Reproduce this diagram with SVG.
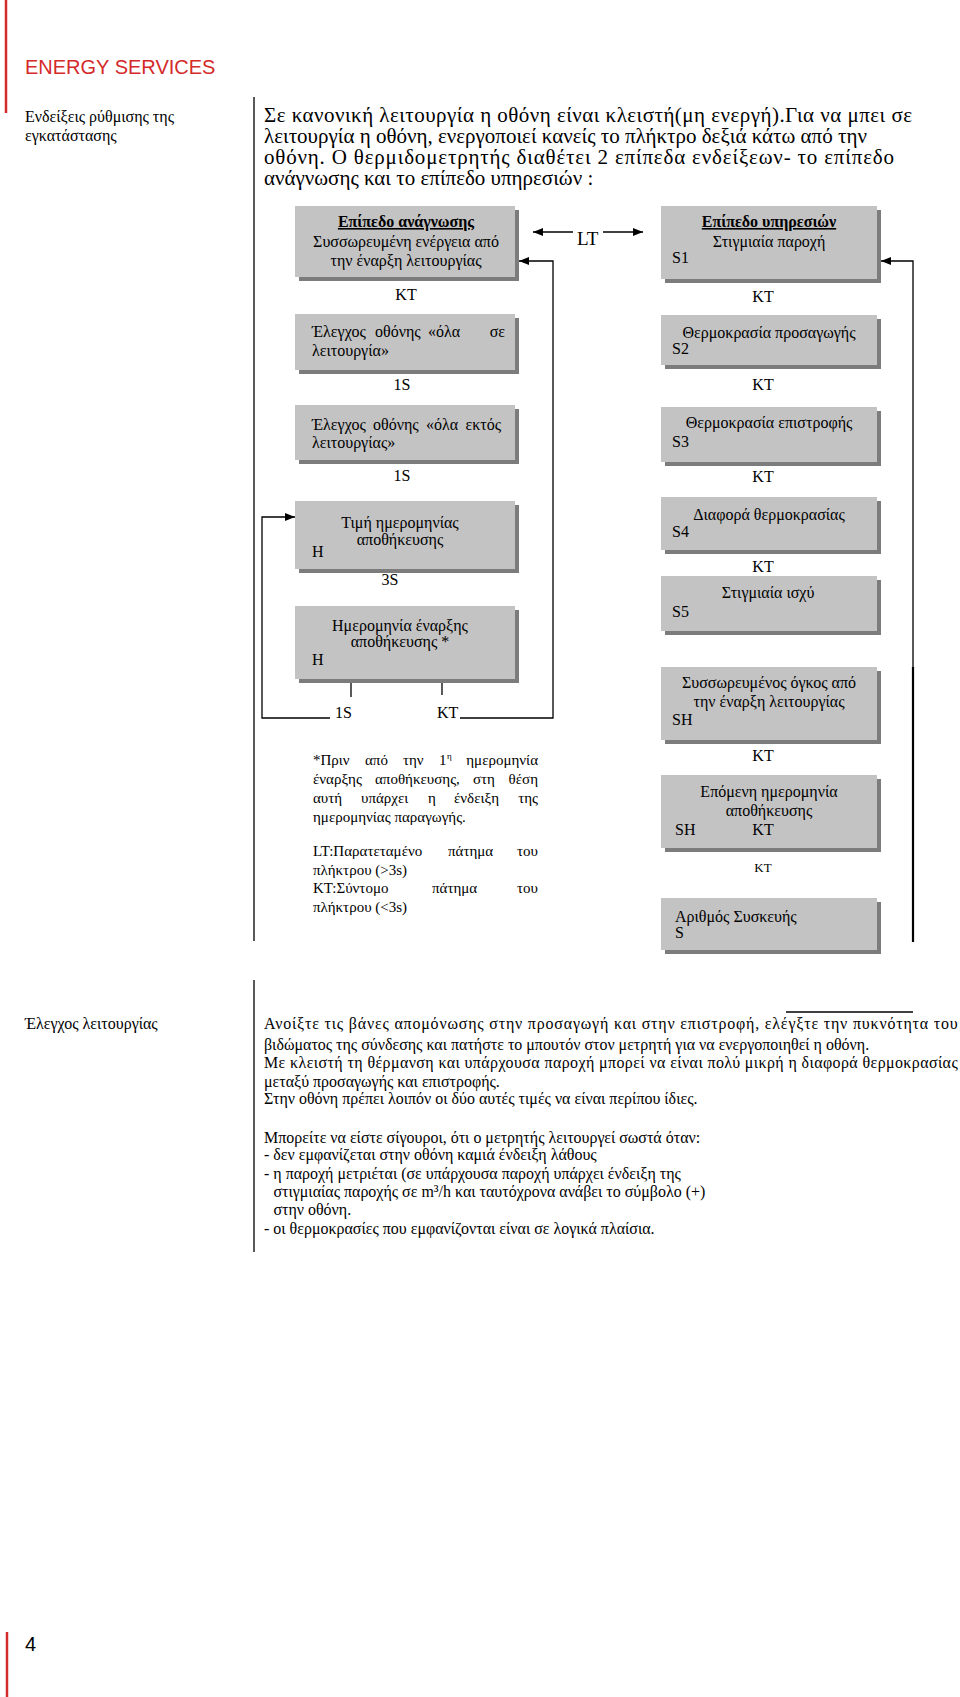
<svg xmlns="http://www.w3.org/2000/svg" width="960" height="1697" viewBox="0 0 960 1697">
<defs>
<style>
.t{font-family:"Liberation Serif","DejaVu Serif",serif;font-size:16px;fill:#000}
.k{font-family:"Liberation Serif","DejaVu Serif",serif;font-size:16px;fill:#000}
.i{font-family:"Liberation Serif","DejaVu Serif",serif;font-size:21px;fill:#000}
.p{font-family:"Liberation Serif","DejaVu Serif",serif;font-size:17px;fill:#000}
.s{font-family:"Liberation Serif","DejaVu Serif",serif;font-size:15px;fill:#000}
.sd{font-family:"Liberation Serif","DejaVu Serif",serif;font-size:16px;fill:#000}
.b{font-weight:bold;text-decoration:underline}
.m{text-anchor:middle}
.e{text-anchor:end}
.box{fill:#c3c3c3}
.sh{fill:#7c7c7c}
.ln{stroke:#000;stroke-width:1.3;fill:none}
.red{stroke:#d42a2a;stroke-width:2.5}
</style>
<marker id="ah" viewBox="0 0 10 8" refX="10" refY="4" markerWidth="10" markerHeight="8" markerUnits="userSpaceOnUse" orient="auto">
<path d="M0,0 L10,4 L0,8 z" fill="#000"/>
</marker>
</defs>
<rect width="960" height="1697" fill="#fff"/>

<g id="page">
<line class="red" x1="6" y1="0" x2="6" y2="113"/>
<line class="red" x1="7" y1="1632" x2="7" y2="1697"/>
<text x="25" y="74" style="font-family:'Liberation Sans',Arial,sans-serif;font-size:20px;fill:#d42a2a">ENERGY SERVICES</text>
<text x="25" y="1651" style="font-family:'Liberation Sans',Arial,sans-serif;font-size:20px;fill:#000">4</text>
<line x1="254" y1="97" x2="254" y2="941" stroke="#000" stroke-width="1.3"/>
<line x1="254" y1="980" x2="254" y2="1252" stroke="#000" stroke-width="1.3"/>
<text class="sd" x="25" y="122">Ενδείξεις ρύθμισης της</text>
<text class="sd" x="25" y="141">εγκατάστασης</text>
<text class="p" transform="translate(25 0) scale(0.94 1)" x="0" y="1029">Έλεγχος λειτουργίας</text>
</g>

<g id="intro">
<text class="i" x="264" y="122" textLength="648" lengthAdjust="spacing">Σε κανονική λειτουργία η οθόνη είναι κλειστή(μη ενεργή).Για να μπει σε</text>
<text class="i" x="264" y="143">λειτουργία η οθόνη, ενεργοποιεί κανείς το πλήκτρο δεξιά κάτω από την</text>
<text class="i" x="264" y="164" textLength="630" lengthAdjust="spacing">οθόνη. Ο θερμιδομετρητής διαθέτει 2 επίπεδα ενδείξεων- το επίπεδο</text>
<text class="i" x="264" y="185">ανάγνωσης και το επίπεδο υπηρεσιών :</text>
</g>

<g id="connectors">
<line class="ln" x1="573" y1="232" x2="533" y2="232" marker-end="url(#ah)"/>
<line class="ln" x1="603" y1="232" x2="643" y2="232" marker-end="url(#ah)"/>
<text x="577" y="245" style="font-family:'Liberation Serif',serif;font-size:19px">LT</text>
<path class="ln" d="M460,718 H553 V261 H519" marker-end="url(#ah)"/>
<path class="ln" d="M330,718 H262 V517 H295" marker-end="url(#ah)"/>
<path class="ln" d="M913,941 V261 H881" marker-end="url(#ah)"/>
<line x1="913" y1="667" x2="913" y2="942" stroke="#000" stroke-width="2.2"/>
<line class="ln" x1="351" y1="679" x2="351" y2="697"/>
<line class="ln" x1="442" y1="679" x2="442" y2="695"/>
<text class="k m" x="406" y="300">KT</text>
<text class="k m" x="402" y="390">1S</text>
<text class="k m" x="402" y="481">1S</text>
<text class="k m" x="390" y="585">3S</text>
<text class="k" x="335" y="718">1S</text>
<text class="k" x="437" y="718">KT</text>
<text class="k m" x="763" y="302">KT</text>
<text class="k m" x="763" y="390">KT</text>
<text class="k m" x="763" y="482">KT</text>
<text class="k m" x="763" y="572">KT</text>
<text class="k m" x="763" y="761">KT</text>
<text class="m" x="763" y="872" style="font-family:'Liberation Serif',serif;font-size:13px">KT</text>
</g>

<g id="n-read">
<rect class="sh" x="299" y="210" width="220" height="71"/>
<rect class="box" x="295" y="206" width="220" height="71"/>
<text class="t b m" x="406" y="227">Επίπεδο ανάγνωσης</text>
<text class="t m" x="406" y="247">Συσσωρευμένη ενέργεια από</text>
<text class="t m" x="406" y="266">την έναρξη  λειτουργίας</text>
</g>
<g id="n-all-on">
<rect class="sh" x="299" y="318" width="220" height="56"/>
<rect class="box" x="295" y="314" width="220" height="56"/>
<text class="t" y="337"><tspan x="312">Έλεγχος</tspan><tspan x="375">οθόνης</tspan><tspan x="428">«όλα</tspan><tspan x="505" text-anchor="end">σε</tspan></text>
<text class="t" x="312" y="356">λειτουργία»</text>
</g>
<g id="n-all-off">
<rect class="sh" x="299" y="409" width="220" height="55"/>
<rect class="box" x="295" y="405" width="220" height="55"/>
<text class="t" y="430"><tspan x="312">Έλεγχος</tspan><tspan x="373">οθόνης</tspan><tspan x="426">«όλα</tspan><tspan x="501" text-anchor="end">εκτός</tspan></text>
<text class="t" x="312" y="448">λειτουργίας»</text>
</g>
<g id="n-date-val">
<rect class="sh" x="299" y="505" width="220" height="68"/>
<rect class="box" x="295" y="501" width="220" height="68"/>
<text class="t m" x="400" y="528">Τιμή ημερομηνίας</text>
<text class="t m" x="400" y="545">αποθήκευσης</text>
<text class="t" x="312" y="557">H</text>
</g>
<g id="n-date-start">
<rect class="sh" x="299" y="610" width="220" height="73"/>
<rect class="box" x="295" y="606" width="220" height="73"/>
<text class="t m" x="400" y="631">Ημερομηνία  έναρξης</text>
<text class="t m" x="400" y="647">αποθήκευσης *</text>
<text class="t" x="312" y="665">H</text>
</g>

<g id="n-note">
<text class="s" y="765"><tspan x="313">*Πριν</tspan><tspan x="365">από</tspan><tspan x="403">την</tspan><tspan x="439">1</tspan><tspan x="447" dy="-6" style="font-size:9px">η</tspan><tspan x="538" dy="6" text-anchor="end">ημερομηνία</tspan></text>
<text class="s" y="784"><tspan x="313">έναρξης</tspan><tspan x="375">αποθήκευσης,</tspan><tspan x="473">στη</tspan><tspan x="538" text-anchor="end">θέση</tspan></text>
<text class="s" y="803"><tspan x="313">αυτή</tspan><tspan x="361">υπάρχει</tspan><tspan x="428">η</tspan><tspan x="454">ένδειξη</tspan><tspan x="538" text-anchor="end">της</tspan></text>
<text class="s" x="313" y="822">ημερομηνίας παραγωγής.</text>
<text class="s" y="856"><tspan x="313">LT:Παρατεταμένο</tspan><tspan x="448">πάτημα</tspan><tspan x="538" text-anchor="end">του</tspan></text>
<text class="s" x="313" y="875">πλήκτρου (&gt;3s)</text>
<text class="s" y="893"><tspan x="313">KT:Σύντομο</tspan><tspan x="432">πάτημα</tspan><tspan x="538" text-anchor="end">του</tspan></text>
<text class="s" x="313" y="912">πλήκτρου (&lt;3s)</text>
</g>

<g id="n-serv">
<rect class="sh" x="665" y="210" width="216" height="73"/>
<rect class="box" x="661" y="206" width="216" height="73"/>
<text class="t b m" x="769" y="227">Επίπεδο υπηρεσιών</text>
<text class="t m" x="769" y="247">Στιγμιαία  παροχή</text>
<text class="t" x="672" y="263">S1</text>
</g>
<g id="n-s2">
<rect class="sh" x="665" y="319" width="216" height="50"/>
<rect class="box" x="661" y="315" width="216" height="50"/>
<text class="t m" x="769" y="338">Θερμοκρασία προσαγωγής</text>
<text class="t" x="672" y="354">S2</text>
</g>
<g id="n-s3">
<rect class="sh" x="665" y="411" width="216" height="55"/>
<rect class="box" x="661" y="407" width="216" height="55"/>
<text class="t m" x="769" y="428">Θερμοκρασία επιστροφής</text>
<text class="t" x="672" y="447">S3</text>
</g>
<g id="n-s4">
<rect class="sh" x="665" y="501" width="216" height="53"/>
<rect class="box" x="661" y="497" width="216" height="53"/>
<text class="t m" x="769" y="520">Διαφορά θερμοκρασίας</text>
<text class="t" x="672" y="537">S4</text>
</g>
<g id="n-s5">
<rect class="sh" x="665" y="580" width="216" height="55"/>
<rect class="box" x="661" y="576" width="216" height="55"/>
<text class="t m" x="768" y="598">Στιγμιαία ισχύ</text>
<text class="t" x="672" y="617">S5</text>
</g>
<g id="n-sh">
<rect class="sh" x="665" y="671" width="216" height="73"/>
<rect class="box" x="661" y="667" width="216" height="73"/>
<text class="t m" x="769" y="688">Συσσωρευμένος όγκος από</text>
<text class="t m" x="769" y="707">την έναρξη λειτουργίας</text>
<text class="t" x="672" y="725">SH</text>
</g>
<g id="n-next">
<rect class="sh" x="665" y="779" width="216" height="73"/>
<rect class="box" x="661" y="775" width="216" height="73"/>
<text class="t m" x="769" y="797">Επόμενη ημερομηνία</text>
<text class="t m" x="769" y="816">αποθήκευσης</text>
<text class="t" x="675" y="835">SH</text>
<text class="t m" x="763" y="835">KT</text>
</g>
<g id="n-serial">
<rect class="sh" x="665" y="902" width="216" height="52"/>
<rect class="box" x="661" y="898" width="216" height="52"/>
<text class="t" x="675" y="922">Αριθμός Συσκευής</text>
<text class="t" x="675" y="938">S</text>
</g>

<g id="check-text">
<line x1="786" y1="1012" x2="913" y2="1012" stroke="#000" stroke-width="1.3"/>
<g transform="translate(264 0) scale(0.94 1)">
<text class="p" x="0" y="1029" textLength="738" lengthAdjust="spacing">Ανοίξτε τις βάνες απομόνωσης στην προσαγωγή και στην επιστροφή, ελέγξτε την πυκνότητα του</text>
<text class="p" x="0" y="1050">βιδώματος της σύνδεσης και πατήστε το μπουτόν στον μετρητή για να ενεργοποιηθεί η οθόνη.</text>
<text class="p" x="0" y="1068" textLength="738" lengthAdjust="spacing">Με κλειστή τη θέρμανση και υπάρχουσα παροχή μπορεί να είναι πολύ μικρή η διαφορά θερμοκρασίας</text>
<text class="p" x="0" y="1087">μεταξύ προσαγωγής και επιστροφής.</text>
<text class="p" x="0" y="1104">Στην οθόνη πρέπει λοιπόν οι δύο αυτές τιμές να είναι περίπου ίδιες.</text>
<text class="p" x="0" y="1143">Μπορείτε να είστε σίγουροι, ότι ο μετρητής λειτουργεί σωστά όταν:</text>
<text class="p" x="0" y="1160">- δεν εμφανίζεται στην οθόνη καμιά ένδειξη λάθους</text>
<text class="p" x="0" y="1179">- η παροχή μετριέται (σε υπάρχουσα παροχή υπάρχει ένδειξη της</text>
<text class="p" x="10" y="1197">στιγμιαίας παροχής σε m³/h και ταυτόχρονα ανάβει το σύμβολο (+)</text>
<text class="p" x="10" y="1215">στην οθόνη.</text>
<text class="p" x="0" y="1234">- οι θερμοκρασίες που εμφανίζονται είναι σε λογικά πλαίσια.</text>
</g>
</g>
</svg>
